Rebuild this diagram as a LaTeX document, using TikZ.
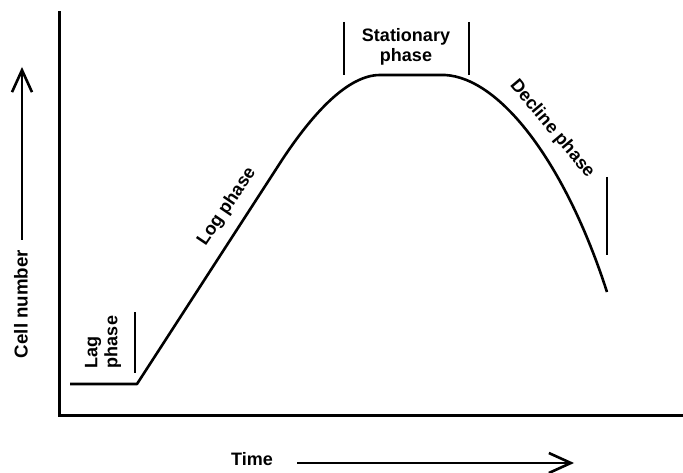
\documentclass[tikz,border=0pt]{standalone}
\usepackage{fontspec}
\setmainfont{Liberation Sans}
\usetikzlibrary{arrows.meta}
\begin{document}
\begin{tikzpicture}[x=1pt,y=-1pt,
  lbl/.style={font=\fontsize{18}{20}\selectfont\bfseries, inner sep=0pt},
  axis/.style={line width=3pt},
  curveline/.style={line width=2.6pt, line join=round},
  bar/.style={line width=2.6pt},
  bigarrow/.style={line width=2.6pt, -{Straight Barb[length=22pt,width=20pt,line width=2.6pt]}}]
\useasboundingbox (0,0) rectangle (683,473);
% axes
\coordinate (ytop) at (59,13);
\coordinate (origin) at (59,415);
\coordinate (xend) at (683,415);
\draw[axis, line cap=rect] (ytop) -- (origin) -- (xend);
% growth curve
\coordinate (lagstart) at (70,384);
\coordinate (lagend) at (137,384);
\coordinate (logend) at (282,160);
\coordinate (stat1) at (380,75);
\coordinate (stat2) at (445,75);
\coordinate (decend) at (607,292);
\draw[curveline] (lagstart) -- (lagend) -- (logend)
  .. controls (313,113) and (348,75) .. (stat1) -- (stat2)
  .. controls (500,78) and (565,162) .. (decend);
% phase bars
\draw[bar] (135,312) -- (135,373);
\draw[bar] (344,22) -- (344,75);
\draw[bar] (469,22) -- (469,75);
\draw[bar] (607,177) -- (607,255);
% labels
\node[lbl, rotate=90, align=left] (lag) at (103,342) {Lag\\phase};
\node[lbl, rotate=56] (log) at (227,207) {Log phase};
\node[lbl, align=center] (stat) at (406,47) {Stationary\\phase};
\node[lbl, rotate=-50] (dec) at (552,129) {Decline phase};
% axis titles
\node[lbl, font=\fontsize{18.7}{20}\selectfont\bfseries, rotate=90] (cell) at (21,304) {Cell number};
\coordinate (cellA) at (22,240);
\coordinate (cellB) at (22,67);
\draw[bigarrow] (cellA) -- (cellB);
\node[lbl] (time) at (252,459) {Time};
\coordinate (timeA) at (297,463);
\coordinate (timeB) at (574,463);
\draw[bigarrow] (timeA) -- (timeB);
\end{tikzpicture}
\end{document}
